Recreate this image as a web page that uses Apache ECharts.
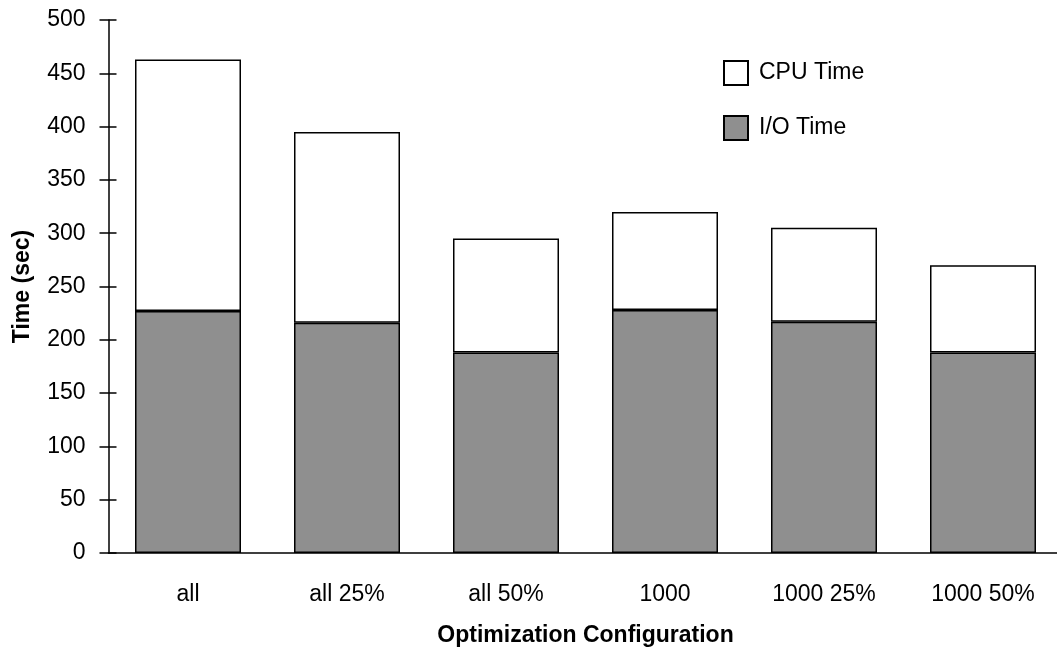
<!DOCTYPE html>
<html>
<head>
<meta charset="utf-8">
<script src="https://cdn.jsdelivr.net/npm/echarts@6/dist/echarts.min.js"></script>
<style>
html,body{margin:0;padding:0;background:#fff;}
#chart{width:1057px;height:651px;}
</style>
</head>
<body>
<div id="chart"></div>
<script>
var categories = ['all', 'all 25%', 'all 50%', '1000', '1000 25%', '1000 50%'];
var ioTime = [227, 216, 188, 228, 217, 188];
var cpuTime = [236, 179, 107, 92, 88, 82];
var yTicks = { min: 0, max: 500, interval: 50 };

var FONT = '"Liberation Sans", Arial, Helvetica, sans-serif';
var chart = echarts.init(document.getElementById('chart'), null, { renderer: 'canvas' });

var borderStyle = { borderColor: '#000', borderWidth: 1.5 };

chart.setOption({
  backgroundColor: '#fff',
  animation: false,
  textStyle: { fontFamily: FONT, color: '#000' },
  grid: { left: 108.5, right: -5.5, top: 20, bottom: 98, containLabel: false, outerBoundsMode: 'none' },
  legend: {
    data: ['CPU Time', 'I/O Time'],
    orient: 'vertical',
    left: 723,
    top: 60,
    padding: 0,
    itemWidth: 24,
    itemHeight: 24,
    itemGap: 29,
    icon: 'rect',
    textStyle: { fontFamily: FONT, fontSize: 23, color: '#000', padding: [3, 0, 0, 6] }
  },
  xAxis: {
    type: 'category',
    data: categories,
    name: 'Optimization Configuration',
    nameLocation: 'middle',
    nameGap: 71,
    nameTextStyle: { fontFamily: FONT, fontSize: 23, fontWeight: 'bold', color: '#000' },
    axisLine: { lineStyle: { color: '#000', width: 1.5 } },
    axisTick: { show: false },
    axisLabel: { fontFamily: FONT, fontSize: 23, color: '#000', margin: 30 },
    splitLine: { show: false }
  },
  yAxis: [
    {
      type: 'value',
      min: yTicks.min,
      max: yTicks.max,
      interval: yTicks.interval,
      name: 'Time (sec)',
      nameLocation: 'middle',
      nameGap: 74,
      nameRotate: 90,
      nameTextStyle: { fontFamily: FONT, fontSize: 23, fontWeight: 'bold', color: '#000' },
      axisLine: { show: true, lineStyle: { color: '#000', width: 1.5 } },
      axisTick: { show: true, inside: false, length: 9, lineStyle: { color: '#000', width: 1.5 } },
      axisLabel: { fontFamily: FONT, fontSize: 23, color: '#000', margin: 23 },
      splitLine: { show: false }
    },
    {
      type: 'value',
      position: 'left',
      min: yTicks.min,
      max: yTicks.max,
      interval: yTicks.interval,
      axisLine: { show: false },
      axisTick: { show: true, inside: true, length: 8, lineStyle: { color: '#000', width: 1.5 } },
      axisLabel: { show: false },
      splitLine: { show: false }
    }
  ],
  series: [
    {
      name: 'I/O Time',
      type: 'bar',
      stack: 'total',
      barWidth: 106,
      data: ioTime,
      itemStyle: Object.assign({ color: '#8f8f8f' }, borderStyle)
    },
    {
      name: 'CPU Time',
      type: 'bar',
      stack: 'total',
      barWidth: 106,
      data: cpuTime,
      itemStyle: Object.assign({ color: '#ffffff' }, borderStyle)
    }
  ]
});
</script>
</body>
</html>
